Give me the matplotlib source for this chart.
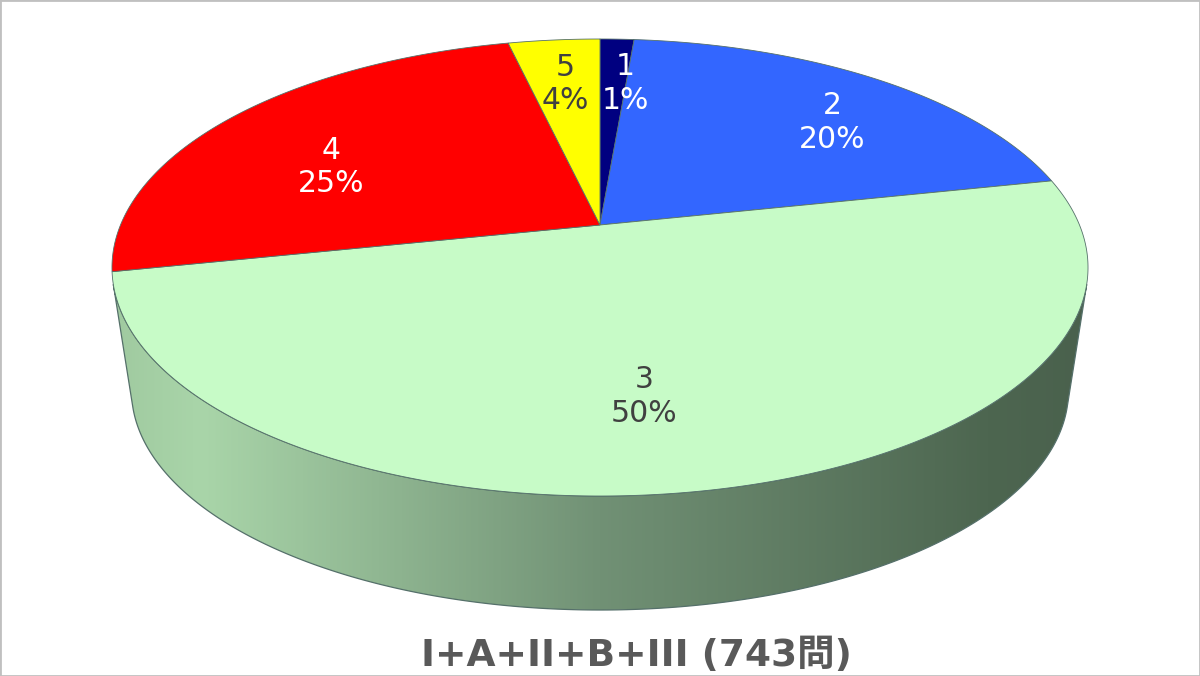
import numpy as np
import matplotlib
matplotlib.use('Agg')
import matplotlib.pyplot as plt
from matplotlib.patches import Polygon, Rectangle
from matplotlib.colors import LinearSegmentedColormap

# data
labels = ['1', '2', '3', '4', '5']
counts = [10, 151, 372, 183, 27]
colors = ['#000080', '#3366FF', '#C7FBC7', '#FF0000', '#FFFF00']
side_colors = ['#000050', '#1f3d99', None, '#990000', '#999900']
text_colors = ['white', 'white', '#404040', 'white', '#404040']
label_r = [0.85, 0.83, 0.6, 0.72, 0.85]
label_dx = [10, -4, -22, 2, 5]
title = 'I+A+II+B+III (743問)'

# pie geometry (pixels)
W, H = 1200, 676
cx, cy = 600, 225
rx, ry = 479.5, 220.6
k = 0.186          # perspective of the top face
front_depth = 114  # wall height at the front
shrink = 0.96      # bottom face scale toward the vanishing point


def project(theta, r=1.0):
    u = r * np.sin(theta)
    v = r * np.cos(theta)
    f = 1.0 / (1.0 + k * v)
    return cx + rx * u * f, cy - ry * v * f, f


y_front = project(np.pi)[1]
vy = (y_front + front_depth - y_front * shrink) / (1 - shrink)


def bottom(x, y):
    return cx + (x - cx) * shrink, vy + (y - vy) * shrink


fig = plt.figure(figsize=(12, 6.76), dpi=100)
ax = fig.add_axes([0, 0, 1, 1])
ax.set_axis_off()

total = float(sum(counts))
bounds = np.concatenate([[0], np.cumsum(counts)]) / total * 2 * np.pi

# silhouette: tangents from the vanishing point
tt = np.linspace(0, 2 * np.pi, 7201)
xx, yy, _ = project(tt)
ang = np.arctan2(xx - cx, vy - yy)
t_right = tt[np.argmax(ang)]
t_left = tt[np.argmin(ang)]

cmap = LinearSegmentedColormap.from_list('side', [(0, '#a0caa0'), (0.09, '#a9d5a9'), (0.5, '#719175'),
                                                 (0.9, '#4d6650'), (1, '#4a614d')])
edge = '#55706a'

# side walls
for i in range(len(counts)):
    a = max(bounds[i], t_right)
    b = min(bounds[i + 1], t_left)
    if a >= b:
        continue
    th = np.linspace(a, b, 300)
    x, y, f = project(th)
    xb, yb = bottom(x, y)
    pts = np.concatenate([np.column_stack([x, y]), np.column_stack([xb[::-1], yb[::-1]])])
    if side_colors[i] is None:
        poly = Polygon(pts, closed=True, facecolor='none', edgecolor=edge, lw=0.9, zorder=2)
        ax.add_patch(poly)
        x0, x1 = project(t_right)[0], project(t_left)[0]
        grad = np.linspace(0, 1, 512).reshape(1, -1)
        im = ax.imshow(grad, extent=[x1, x0, yb.max(), y.min()], cmap=cmap, aspect='auto',
                       vmin=0, vmax=1, zorder=1)
        im.set_clip_path(poly)
    else:
        ax.add_patch(Polygon(pts, closed=True, facecolor=side_colors[i], edgecolor=edge, lw=0.6, zorder=1))

# top faces
for i in range(len(counts)):
    th = np.linspace(bounds[i], bounds[i + 1], 300)
    x, y, f = project(th)
    pts = np.concatenate([[[cx, cy]], np.column_stack([x, y])])
    ax.add_patch(Polygon(pts, closed=True, facecolor=colors[i], edgecolor=edge, lw=0.6, zorder=3))

# labels
for i in range(len(counts)):
    mid = (bounds[i] + bounds[i + 1]) / 2
    x, y, f = project(mid, label_r[i])
    y = y + 0.25 * 92.8 * f
    pct = int(round(100 * counts[i] / total))
    ax.text(x + label_dx[i], y, '%s\n%d%%' % (labels[i], pct), ha='center', va='center', fontsize=21.5,
            color=text_colors[i], family='DejaVu Sans', zorder=5)

ax.text(636, 656, title, ha='center', va='center', fontsize=27, fontweight='bold',
        color='#595959', family=['DejaVu Sans', 'Noto Sans CJK JP'], zorder=5)

ax.set_xlim(0, W)
ax.set_ylim(H, 0)

fig.patches.append(Rectangle((0, 0), 1, 1, transform=fig.transFigure, fill=False,
                             edgecolor='#c0c0c0', lw=2))

fig.savefig('out.png', dpi=100)
